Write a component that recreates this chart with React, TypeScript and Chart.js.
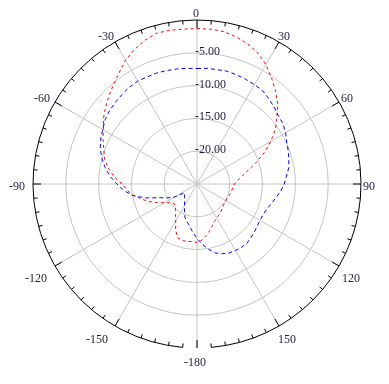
import React, { useEffect, useRef } from 'react';
import { Chart, registerables } from 'chart.js';

Chart.register(...registerables);

// Angular categories (degrees, clockwise from top), every 5 degrees
const ANGLES = [
  0, 5, 10, 15, 20, 25, 30, 35, 40, 45, 50, 55,
  60, 65, 70, 75, 80, 85, 90, 95, 100, 105, 110, 115,
  120, 125, 130, 135, 140, 145, 150, 155, 160, 165, 170, 175,
  180, 185, 190, 195, 200, 205, 210, 215, 220, 225, 230, 235,
  240, 245, 250, 255, 260, 265, 270, 275, 280, 285, 290, 295,
  300, 305, 310, 315, 320, 325, 330, 335, 340, 345, 350, 355,
];

// Red series (dB)
const RED = [
  -1.3, -1.3, -1.4, -1.8, -2.3, -3.0, -4.0, -5.2, -6.4, -7.6, -9.1, -10.4,
  -12.0, -13.7, -15.4, -16.9, -18.0, -18.8, -19.3, -19.5, -19.6, -19.7, -19.8, -19.9,
  -19.9, -19.9, -19.8, -19.6, -19.4, -19.2, -19.0, -18.7, -18.2, -17.6, -17.0, -16.4,
  -16.1, -16.2, -16.1, -16.1, -16.3, -17.3, -18.5, -19.3, -19.9, -20.3, -20.4, -20.0,
  -19.3, -18.3, -17.2, -16.2, -15.1, -14.3, -13.6, -12.3, -11.3, -10.4, -9.9, -9.2,
  -8.5, -7.6, -6.8, -6.0, -5.2, -4.3, -3.2, -2.4, -1.7, -1.2, -1.2, -1.3,
];

// Blue series (dB)
const BLUE = [
  -7.4, -7.3, -7.3, -7.2, -7.3, -7.4, -7.5, -7.6, -8.0, -8.4, -8.8, -9.0,
  -9.4, -9.9, -10.2, -10.5, -10.8, -11.3, -11.7, -12.2, -12.8, -13.3, -13.7, -13.9,
  -13.9, -13.8, -13.6, -13.4, -13.2, -13.2, -13.3, -13.4, -13.7, -14.1, -14.9, -15.8,
  -16.7, -17.6, -18.5, -19.1, -19.6, -20.5, -21.2, -21.7, -22.1, -22.3, -22.5, -22.7,
  -21.0, -20.0, -18.9, -16.8, -15.0, -13.8, -12.8, -11.7, -10.8, -10.0, -9.3, -8.8,
  -8.4, -7.9, -7.6, -7.4, -7.2, -7.0, -6.9, -7.0, -7.0, -7.1, -7.2, -7.3,
];

// Angular tick labels (every 30 degrees)
const ANGLE_LABEL_DEGREES = [0, 30, 60, 90, 120, 150, 180, 210, 240, 270, 300, 330];
const ANGLE_LABELS = ['0', '30', '60', '90', '120', '150', '-180', '-150', '-120', '-90', '-60', '-30'];

// Radial scale
const R_MIN = -25;
const R_MAX = 0;
const RADIAL_TICK_VALUES = [-5, -10, -15, -20];
const RADIAL_TICK_LABELS = ['-5.00', '-10.00', '-15.00', '-20.00'];

// label placement styles relative to the outer circle point: [align, dx, dy]
const LABEL_PLACEMENT: Record<number, [CanvasTextAlign, number, number]> = {
  0: ['center', -1, -3],
  30: ['left', -1, -2],
  60: ['left', 2, 0],
  90: ['left', 2, 6],
  120: ['left', 3, 16],
  150: ['left', -1, 17],
  180: ['center', -2, 18],
  210: ['right', -7, 17],
  240: ['right', -8, 16],
  270: ['right', -8, 6],
  300: ['right', -5, 0],
  330: ['right', -1, -2],
};

const TEXT_COLOR = '#1e1e3c';
const GRID_COLOR = '#c4c4c4';
const FONT = '12px "Liberation Serif", "Times New Roman", serif';

const polarDecor = {
  id: 'polarDecor',
  beforeDatasetsDraw(chart: any) {
    const scale = chart.scales.r;
    const ctx: CanvasRenderingContext2D = chart.ctx;
    const R = scale.drawingArea;
    const cx = scale.xCenter;
    const cy = scale.yCenter;
    ctx.save();
    // outer black circle (small gap around the bottom, as in the reference)
    ctx.strokeStyle = '#000';
    ctx.lineWidth = 1;
    ctx.setLineDash([]);
    ctx.beginPath();
    const toCanvas = (deg: number) => ((deg - 90) * Math.PI) / 180;
    ctx.arc(cx, cy, R, toCanvas(185), toCanvas(175 + 360));
    ctx.stroke();
    // tick marks every 5 degrees
    ANGLES.forEach((deg, i) => {
      const len = deg % 30 === 0 ? 8 : 4;
      const p1 = scale.getPointPosition(i, R);
      const p2 = scale.getPointPosition(i, R - len);
      ctx.beginPath();
      ctx.moveTo(p1.x, p1.y);
      ctx.lineTo(p2.x, p2.y);
      ctx.stroke();
    });
    // angular labels
    ctx.font = FONT;
    ctx.fillStyle = TEXT_COLOR;
    ctx.textBaseline = 'alphabetic';
    ANGLE_LABEL_DEGREES.forEach((deg, k) => {
      const idx = ANGLES.indexOf(deg);
      const p = scale.getPointPosition(idx, R);
      const [align, dx, dy] = LABEL_PLACEMENT[deg];
      ctx.textAlign = align;
      ctx.fillText(ANGLE_LABELS[k], p.x + dx, p.y + dy);
    });
    // radial tick labels along the 0 degree line
    ctx.textAlign = 'left';
    RADIAL_TICK_VALUES.forEach((v, k) => {
      const d = scale.getDistanceFromCenterForValue(v);
      ctx.fillText(RADIAL_TICK_LABELS[k], cx - 2, cy - d + 2);
    });
    ctx.restore();
  },
};

export default function App() {
  const ref = useRef<HTMLCanvasElement | null>(null);
  useEffect(() => {
    if (!ref.current) return;
    const chart = new Chart(ref.current, {
      type: 'radar',
      data: {
        labels: ANGLES.map((a) => String(a)),
        datasets: [
          {
            label: 'blue',
            data: BLUE,
            borderColor: '#0000ff',
            borderWidth: 1,
            borderDash: [4, 3],
            fill: false,
            pointRadius: 0,
            tension: 0,
          },
          {
            label: 'red',
            data: RED,
            borderColor: '#ff0000',
            borderWidth: 1,
            borderDash: [3, 3],
            fill: false,
            pointRadius: 0,
            tension: 0,
          },
        ],
      },
      options: {
        responsive: false,
        animation: false,
        devicePixelRatio: 1,
        layout: { padding: { left: 33, right: 28, top: 20, bottom: 36 } },
        plugins: { legend: { display: false }, tooltip: { enabled: false } },
        scales: {
          r: {
            min: R_MIN,
            max: R_MAX,
            startAngle: 0,
            ticks: { display: false, stepSize: 5 },
            pointLabels: { display: false },
            grid: {
              circular: true,
              color: (c: any) => (c.tick && c.tick.value === R_MAX ? 'rgba(0,0,0,0)' : GRID_COLOR),
              lineWidth: 1,
            },
            angleLines: {
              display: true,
              color: GRID_COLOR,
              lineWidth: (c: any) => (ANGLES[c.index] % 30 === 0 ? 1 : 0),
            },
          },
        },
      },
      plugins: [polarDecor],
    });
    return () => chart.destroy();
  }, []);
  return (
    <div style={{ position: 'absolute', left: 0, top: 0, width: 389, height: 384, background: '#fff' }}>
      <canvas ref={ref} width={389} height={384} style={{ display: 'block' }} />
    </div>
  );
}
